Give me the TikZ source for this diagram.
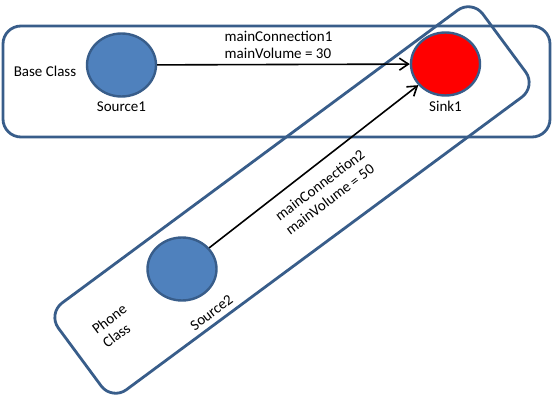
\documentclass[tikz,border=0pt]{standalone}
\usepackage{fontspec}
\setmainfont{Carlito}
\usetikzlibrary{arrows.meta,shapes.geometric,positioning}
\definecolor{FrameBlue}{RGB}{56,93,138}
\definecolor{PortBlue}{RGB}{79,129,189}
\definecolor{SinkRed}{RGB}{255,0,0}

\begin{document}
\begin{tikzpicture}[x=1pt,y=1pt,>={Straight Barb[length=9pt,width=12pt]},
    classbox/.style={draw=FrameBlue,line width=2.8pt,rounded corners=18pt,inner sep=0pt},
    port/.style={ellipse,draw=FrameBlue,line width=2.4pt,fill=PortBlue,minimum width=69pt,minimum height=63pt,inner sep=0pt},
    lbl/.style={inner sep=1pt,font=\fontsize{15}{17.5}\selectfont,align=left},
    conn/.style={->,line width=1.6pt}]
  \useasboundingbox (0,0) rectangle (558,-403);
  % the two classes
  \node[classbox,minimum width=547pt,minimum height=111pt] (base) at (276.5,-81.5) {};
  \node[classbox,minimum width=528pt,minimum height=108pt,rotate=36.5] (phone) at (292,-200) {};
  % ports
  \node[port] (src1) at (121.5,-65) {};
  \node[port,fill=SinkRed] (snk1) at (445.5,-64) {};
  \node[port] (src2) at (182,-269) {};
  \node[lbl,below=3pt of src1] (src1lbl) {Source1};
  \node[lbl,below=3pt of snk1] (snk1lbl) {Sink1};
  \node[lbl,rotate=37] (src2lbl) at (211.5,-312.5) {Source2};
  \node[lbl] (baselbl) at (45,-71) {Base Class};
  \node[lbl,rotate=37] (phonelbl) at (114.5,-326) {Phone\\Class};
  % connections
  \draw[conn] (src1) -- (snk1) node[lbl,pos=0.26,anchor=west,yshift=20pt] (con1lbl) {mainConnection1\\mainVolume = 30};
  \draw[conn] (src2) -- (snk1);
  \node[lbl,rotate=37] (con2lbl) at (325,-192) {mainConnection2\\mainVolume = 50};
\end{tikzpicture}
\end{document}
